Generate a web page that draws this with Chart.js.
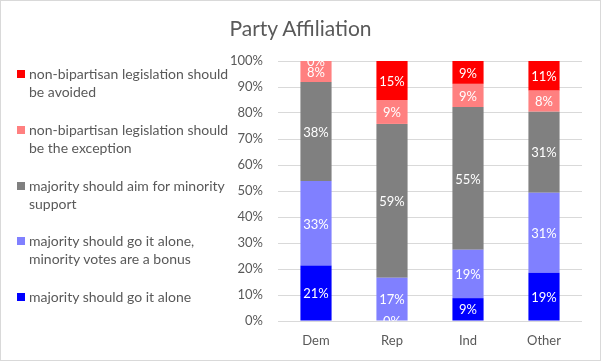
<!DOCTYPE html>
<html><head><meta charset="utf-8">
<script src="https://cdn.jsdelivr.net/npm/chart.js@4.4.0/dist/chart.umd.min.js"></script>
<style>
html,body{margin:0;padding:0;background:#fff;}
#wrap{position:relative;width:601px;height:361px;overflow:hidden;background:#fff;}
#frame{position:absolute;left:0;top:0;width:599px;height:359px;border:1px solid #d9d9d9;pointer-events:none;}
#c{position:absolute;left:0;top:0;}
#title{position:absolute;left:0;top:15px;width:601px;text-align:center;font-family:Lato,"Open Sans",sans-serif;font-size:21px;line-height:26px;color:#595959;}
#legend{position:absolute;left:0;top:0;width:240px;height:361px;font-family:Lato,"Open Sans",sans-serif;font-size:14px;color:#595959;}
.item{position:absolute;left:29px;width:210px;line-height:18px;white-space:pre;}
.sw{position:absolute;left:-12px;top:5px;width:8px;height:8px;}
</style></head>
<body>
<div id="wrap">
<canvas id="c" width="601" height="361"></canvas>
<div id="title"></div>
<div id="legend"></div>
<div id="frame"></div>
</div>
<script>
const chartTitle = "Party Affiliation";
const categories = ["Dem", "Rep", "Ind", "Other"];
const seriesNames = [
  "majority should go it alone",
  "majority should go it alone,\nminority votes are a bonus",
  "majority should aim for minority\nsupport",
  "non-bipartisan legislation should\nbe the exception",
  "non-bipartisan legislation should\nbe avoided"
];
const goAlone        = [21.3, 0.0, 8.8, 18.6];
const goAloneBonus   = [32.5, 16.6, 18.6, 30.7];
const aimMinority    = [38.1, 59.2, 54.9, 31.2];
const exceptionOnly  = [8.1, 9.2, 8.9, 8.1];
const avoided        = [0.0, 15.0, 8.8, 11.4];
const yTicks = [0, 10, 20, 30, 40, 50, 60, 70, 80, 90, 100];
const colors = ["#0000FF", "#8080FF", "#808080", "#FF8080", "#FF0000"];

const seriesValues = [goAlone, goAloneBonus, aimMinority, exceptionOnly, avoided];

document.getElementById('title').textContent = chartTitle;

// HTML legend (reverse order, like the reference)
const legend = document.getElementById('legend');
for (let k = 0; k < seriesNames.length; k++) {
  const i = seriesNames.length - 1 - k;
  const d = document.createElement('div');
  d.className = 'item';
  d.style.top = (65 + k * 55.8) + 'px';
  d.textContent = seriesNames[i];
  const s = document.createElement('span');
  s.className = 'sw';
  s.style.background = colors[i];
  d.appendChild(s);
  legend.appendChild(d);
}

const labelPlugin = {
  id: 'segLabels',
  afterDatasetsDraw(chart) {
    const ctx = chart.ctx, a = chart.chartArea;
    ctx.save();
    ctx.beginPath();
    ctx.rect(a.left, a.top, a.right - a.left, a.bottom - a.top);
    ctx.clip();
    ctx.fillStyle = '#ffffff';
    ctx.font = '13px Lato, "Open Sans", sans-serif';
    ctx.textAlign = 'center';
    ctx.textBaseline = 'middle';
    chart.data.datasets.forEach((ds, di) => {
      const meta = chart.getDatasetMeta(di);
      meta.data.forEach((el, j) => {
        const v = ds.data[j];
        const y = (el.y + el.base) / 2;
        ctx.fillText(Math.round(v) + '%', el.x, y + 1);
      });
    });
    ctx.restore();
  }
};

new Chart(document.getElementById('c'), {
  type: 'bar',
  data: {
    labels: categories,
    datasets: seriesValues.map((vals, i) => ({
      label: seriesNames[i],
      data: vals,
      backgroundColor: colors[i],
      borderWidth: 0,
      barPercentage: 0.41,
      categoryPercentage: 1.0
    }))
  },
  options: {
    responsive: false,
    animation: false,
    events: [],
    layout: { padding: { left: 225, right: 19, top: 61, bottom: 0 } },
    plugins: {
      legend: { display: false },
      tooltip: { enabled: false },
      title: { display: false }
    },
    scales: {
      x: {
        stacked: true,
        grid: { display: false, drawTicks: false },
        border: { display: false },
        ticks: { color: '#595959', font: { family: 'Lato, "Open Sans", sans-serif', size: 13 }, padding: 12 },
        afterFit(s) { s.height = 40; }
      },
      y: {
        stacked: true,
        min: 0, max: 100,
        afterBuildTicks(s) { s.ticks = yTicks.map(v => ({ value: v })); },
        grid: { color: '#D9D9D9', drawTicks: false, lineWidth: 1 },
        border: { display: false },
        ticks: { color: '#595959', font: { family: 'Lato, "Open Sans", sans-serif', size: 13 }, padding: 15, callback: v => v + '%' },
        afterFit(s) { s.width = 53; }
      }
    }
  },
  plugins: [labelPlugin]
});
</script>
</body></html>
